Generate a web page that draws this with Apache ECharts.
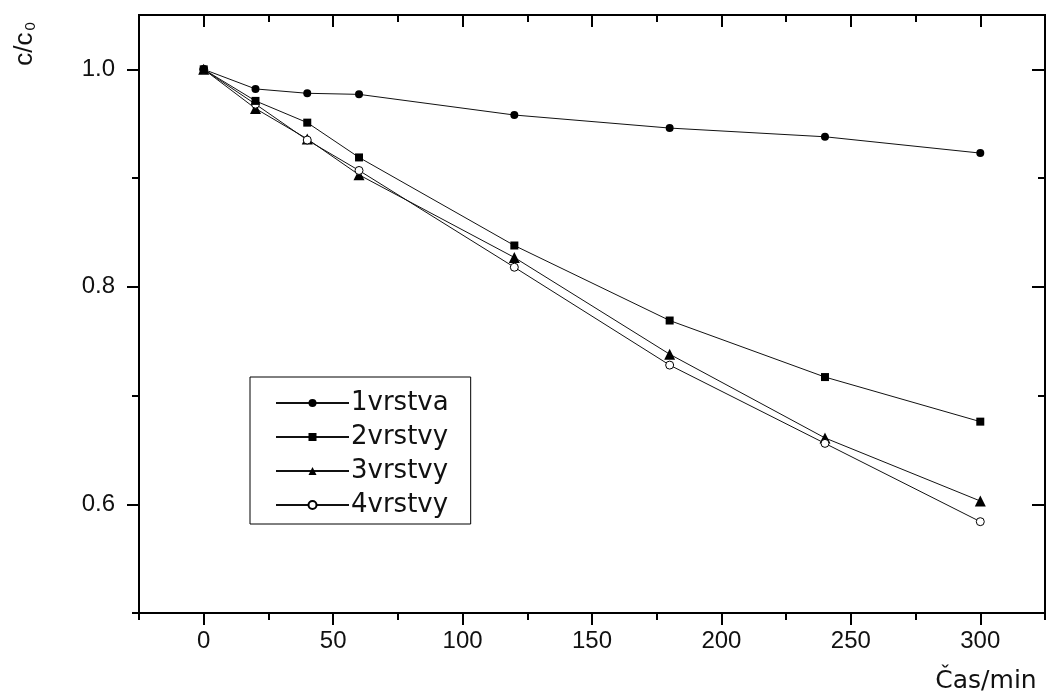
<!DOCTYPE html>
<html>
<head>
<meta charset="utf-8">
<script src="https://cdn.jsdelivr.net/npm/echarts@6/dist/echarts.min.js"></script>
<style>
html, body { margin: 0; padding: 0; background: #fff; }
#chart { width: 1048px; height: 693px; }
</style>
</head>
<body>
<div id="chart"></div>
<script>
// cas v minutach
var times = [0, 20, 40, 60, 120, 180, 240, 300];
var names = ['1vrstva', '2vrstvy', '3vrstvy', '4vrstvy'];
var vrstva1 = [1.0, 0.982, 0.978, 0.977, 0.958, 0.946, 0.938, 0.923];
var vrstvy2 = [1.0, 0.971, 0.951, 0.919, 0.838, 0.769, 0.717, 0.676];
var vrstvy3 = [1.0, 0.964, 0.936, 0.903, 0.827, 0.738, 0.661, 0.603];
var vrstvy4 = [1.0, 0.968, 0.935, 0.907, 0.818, 0.728, 0.656, 0.584];
var xMajor = [0, 50, 100, 150, 200, 250, 300];
var xMinor = [-25, 25, 75, 125, 175, 225, 275, 325];
var yMajor = [0.6, 0.8, 1.0];
var yMinor = [0.5, 0.7, 0.9];

function pairs(ys) {
	return times.map(function (t, i) { return [t, ys[i]]; });
}

var chart = echarts.init(document.getElementById('chart'));
var black = '#000';
var font = 'Liberation Sans';

function xAx(pos, ticks, len, inside, labels) {
	return {
		type: 'value', min: -25, max: 325, position: pos,
		axisLine: { show: true, onZero: false, lineStyle: { color: black, width: 2 } },
		axisTick: { show: true, customValues: ticks, length: len, inside: inside, lineStyle: { color: black, width: 2 } },
		axisLabel: labels ? { show: true, customValues: xMajor, margin: 16, color: '#111', fontSize: 24, fontFamily: font } : { show: false },
		splitLine: { show: false }
	};
}
function yAx(pos, ticks, len, inside, labels) {
	return {
		type: 'value', min: 0.5, max: 1.05, position: pos,
		axisLine: { show: true, onZero: false, lineStyle: { color: black, width: 2 } },
		axisTick: { show: true, customValues: ticks, length: len, inside: inside, lineStyle: { color: black, width: 2 } },
		axisLabel: labels ? {
			show: true, customValues: yMajor, margin: 24, color: '#111', fontSize: 24, fontFamily: font,
			formatter: function (v) { return v.toFixed(1); }
		} : { show: false },
		splitLine: { show: false }
	};
}

var symbols = ['circle', 'rect', 'triangle', 'circle'];
var sizes = [8, 8, 11, 8];
var zs = [10, 9, 7, 8];
var seriesData = [vrstva1, vrstvy2, vrstvy3, vrstvy4];

var option = {
	animation: false,
	backgroundColor: '#fff',
	grid: { left: 139, right: 3, top: 15, bottom: 80 },
	xAxis: [
		xAx('bottom', xMajor, 12, false, true),
		xAx('bottom', xMinor, 7, false, false),
		xAx('top', xMajor, 12, true, false),
		xAx('top', xMinor, 7, true, false)
	],
	yAxis: [
		yAx('left', yMajor, 12, false, true),
		yAx('left', yMinor, 7, false, false),
		yAx('right', yMajor, 13, true, false),
		yAx('right', yMinor, 7, true, false)
	],
	legend: {
		orient: 'vertical',
		left: 250, top: 377,
		padding: [13, 22, 6, 25],
		itemGap: 8,
		itemWidth: 73, itemHeight: 10,
		borderColor: black, borderWidth: 1,
		backgroundColor: '#fff',
		textStyle: { fontSize: 26, fontFamily: 'DejaVu Sans', color: '#111', padding: [0, 0, 0, -3] },
		data: names
	},
	series: seriesData.map(function (ys, i) {
		return {
			name: names[i],
			type: 'line',
			data: pairs(ys),
			symbol: symbols[i],
			symbolSize: sizes[i],
			showAllSymbol: true,
			lineStyle: { color: '#111', width: 1 },
			itemStyle: { color: i === 3 ? '#fff' : '#000', borderColor: '#000', borderWidth: i === 3 ? 1 : 0 },
			z: zs[i]
		};
	}),
	graphic: [
		{
			type: 'text', x: 25, y: 44, rotation: Math.PI / 2,
			style: {
				text: '{a|c/c}{s|0}',
				align: 'center', verticalAlign: 'middle',
				rich: {
					a: { fontSize: 26, fontFamily: font, fill: '#111' },
					s: { fontSize: 15, fontFamily: font, fill: '#111', verticalAlign: 'bottom', padding: [12, 0, 0, 2] }
				}
			}
		},
		{
			type: 'text', x: 986, y: 681,
			style: {
				text: 'Čas/min', align: 'center', verticalAlign: 'middle',
				fontSize: 25, fontFamily: 'DejaVu Sans', fill: '#111'
			}
		}
	]
};
chart.setOption(option);
</script>
</body>
</html>
